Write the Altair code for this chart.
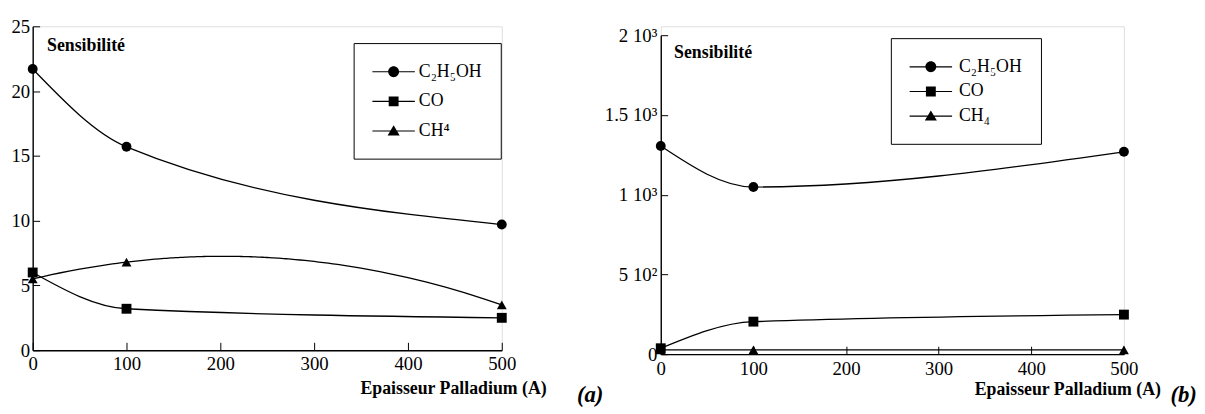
import altair as alt
import pandas as pd

# ---------------- data ----------------
X_VALUES = [0, 100, 500]
SERIES = ["C2H5OH", "CO", "CH4"]

A_C2H5OH = [21.7, 15.7, 9.7]
A_CO = [6.0, 3.2, 2.5]
A_CH4 = [5.5, 6.8, 3.5]

B_C2H5OH = [1305, 1048, 1269]
B_CO = [37, 204, 248]
B_CH4 = [27, 27, 27]

A_LEGEND_LABELS = ["C₂H₅OH", "CO", "CH⁴"]
B_LEGEND_LABELS = ["C₂H₅OH", "CO", "CH₄"]

X_TICKS = [0, 100, 200, 300, 400, 500]
A_Y_TICKS = [0, 5, 10, 15, 20, 25]
B_Y_TICKS = [0, 500, 1000, 1500, 2000]
B_Y_LABELS = ["0", "5 10²", "1 10³", "1.5 10³", "2 10³"]

Y_TITLE = "Sensibilité"
X_TITLE = "Epaisseur Palladium (A)"
PANEL_TAGS = ["(a)", "(b)"]

# curve type used to join the measured points of each series
A_CURVES = {"C2H5OH": "monotone", "CO": "monotone", "CH4": "quadratic"}
B_CURVES = {"C2H5OH": "monotone", "CO": "monotone", "CH4": "monotone"}

SERIF = "Liberation Serif"

# legend symbols (unit = half the nominal symbol box): a line with the marker on it
LEG_PATHS = [
    "M-1,-0.06H3.3V0.06H-1Z M0.6,0A0.55,0.55,0,1,1,1.7,0A0.55,0.55,0,1,1,0.6,0Z",
    "M-1,-0.06H3.3V0.06H-1Z M0.65,-0.5H1.65V0.5H0.65Z",
    "M-1,-0.06H3.3V0.06H-1Z M1.15,-0.58L1.76,0.45H0.54Z",
]


def long_table(series_values):
    rows = []
    for s, vals in zip(SERIES, series_values):
        for x, y in zip(X_VALUES, vals):
            rows.append({"s": s, "x": x, "y": y})
    return pd.DataFrame(rows)


def map_expr(keys, labels, quote):
    expr = "''"
    for k, lab in reversed(list(zip(keys, labels))):
        key = f"'{k}'" if quote else str(k)
        expr = f"(datum.value == {key} ? '{lab}' : {expr})"
    return expr


def build_panel(df, curves, ydom, yticks, ylab_expr, legend_labels, tag, c):
    xs = alt.Scale(domain=[0, 500], nice=False, zero=False)
    ys = alt.Scale(domain=ydom, nice=False, range=[c["h"], c["ytop"]])

    yaxis_kw = dict(
        orient="left", values=yticks, tickSize=0, grid=False,
        domainColor="black", domainWidth=1.4,
        labelFont=SERIF, labelFontSize=19, labelColor="black",
        labelPadding=c["ylabpad"], labelFlush=False,
        title=Y_TITLE, titleAngle=0, titleAlign="left", titleBaseline="middle",
        titleX=c["ytitle_x"], titleY=c["ytitle_y"], titleFont=SERIF,
        titleFontSize=18, titleFontWeight="bold", titleColor="black",
    )
    if ylab_expr:
        yaxis_kw["labelExpr"] = ylab_expr
    y_axis = alt.Axis(**yaxis_kw)

    x_axis = alt.Axis(
        orient="bottom", values=X_TICKS, format="d", tickSize=0, grid=False,
        domainColor="black", domainWidth=1.4,
        labelFont=SERIF, labelFontSize=19, labelColor="black",
        labelPadding=c["xlabpad"], labelFlush=False,
        title=X_TITLE, titleFont=SERIF, titleFontSize=18, titleFontWeight="bold",
        titleColor="black", titleAlign="right", titleBaseline="middle",
        titleX=c["xtitle_x"], titleY=c["xtitle_y"],
    )
    # inward ticks (+ panel tag as title of the tick axis)
    tx_axis = alt.Axis(
        orient="bottom", offset=-8, values=X_TICKS, tickSize=8, tickColor="black",
        tickWidth=1, domain=False, labels=False, grid=False,
        title=tag, titleFont=SERIF, titleFontSize=23, titleFontWeight="bold",
        titleFontStyle="italic", titleColor="black", titleAlign="center",
        titleBaseline="middle", titleX=c["tag_x"], titleY=c["tag_y"],
    )
    ty_axis = alt.Axis(
        orient="left", offset=-7, values=yticks, tickSize=7, tickColor="black",
        tickWidth=1, domain=False, labels=False, grid=False,
        title=" ", titleFontSize=8, titleAngle=0, titleBaseline="top",
        titleAlign="left", titleX=20, titleY=c["h"] // 2,
    )

    mono = [s for s in SERIES if curves[s] == "monotone"]
    quad = [s for s in SERIES if curves[s] == "quadratic"]

    layers = []
    if mono:
        layers.append(
            alt.Chart(df)
            .transform_filter(alt.FieldOneOfPredicate(field="s", oneOf=mono))
            .mark_line(interpolate="monotone", color="black", strokeWidth=1.3)
            .encode(x=alt.X("x:Q", scale=xs, axis=None),
                    y=alt.Y("y:Q", scale=ys, axis=None),
                    detail="s:N")
        )
    if quad:
        layers.append(
            alt.Chart(df)
            .transform_filter(alt.FieldOneOfPredicate(field="s", oneOf=quad))
            .transform_regression("x", "y", method="poly", order=2,
                                  extent=[0, 500], groupby=["s"])
            .mark_line(color="black", strokeWidth=1.3)
            .encode(x=alt.X("x:Q", scale=xs, axis=None),
                    y=alt.Y("y:Q", scale=ys, axis=None),
                    detail="s:N")
        )
    layers.append(
        alt.Chart(df)
        .mark_point(filled=True, size=100, color="black", opacity=1)
        .encode(
            x=alt.X("x:Q", scale=xs, axis=x_axis),
            y=alt.Y("y:Q", scale=ys, axis=y_axis),
            shape=alt.Shape("s:N", scale=alt.Scale(
                domain=SERIES, range=["circle", "square", "triangle-up"]),
                legend=None),
        )
    )
    legend = alt.Legend(
        orient="none", legendX=c["leg_x"], legendY=c["leg_y"], title=None,
        labelExpr=map_expr(SERIES, legend_labels, True),
        labelFont=SERIF, labelFontSize=18, labelColor="black",
        labelOffset=c["leg_lo"], symbolSize=400, symbolStrokeWidth=0,
        symbolFillColor="black", symbolOpacity=1,
        padding=19, rowPadding=c["leg_rp"],
        strokeColor="black", fillColor="white",
    )
    layers.append(
        alt.Chart(df)
        .transform_filter("datum.x < 0")
        .mark_point(filled=True, size=400, color="black", opacity=1)
        .encode(
            x=alt.X("x:Q", scale=xs, axis=tx_axis),
            y=alt.Y("y:Q", scale=ys, axis=ty_axis),
            shape=alt.Shape("s:N", scale=alt.Scale(domain=SERIES, range=LEG_PATHS),
                            legend=legend),
        )
    )
    return (
        alt.layer(*layers)
        .resolve_scale(shape="independent")
        .resolve_axis(x="independent", y="independent")
        .properties(width=c["w"], height=c["h"])
    )


cfg_a = dict(w=475, h=328, ytop=0, ylabpad=3, xlabpad=5, ytitle_x=14, ytitle_y=20,
             xtitle_x=520, xtitle_y=39, tag_x=564, tag_y=53,
             leg_x=325, leg_y=17, leg_rp=11, leg_lo=27)
cfg_b = dict(w=469, h=332, ytop=9, ylabpad=4, xlabpad=6, ytitle_x=13, ytitle_y=27,
             xtitle_x=506, xtitle_y=36, tag_x=529, tag_y=49,
             leg_x=233, leg_y=12, leg_rp=6, leg_lo=30)

df_a = long_table([A_C2H5OH, A_CO, A_CH4])
df_b = long_table([B_C2H5OH, B_CO, B_CH4])

panel_a = build_panel(df_a, A_CURVES, [0, 25], A_Y_TICKS, None,
                      A_LEGEND_LABELS, PANEL_TAGS[0], cfg_a)
panel_b = build_panel(df_b, B_CURVES, [0, 2000], B_Y_TICKS,
                      map_expr(B_Y_TICKS, B_Y_LABELS, False),
                      B_LEGEND_LABELS, PANEL_TAGS[1], cfg_b)

chart = (
    alt.hconcat(panel_a, panel_b, spacing=0)
    .properties(padding={"left": 2, "top": 6, "right": 0, "bottom": 0})
    .configure_view(stroke="transparent")
    .configure_legend(strokeWidth=1.6)
    .configure(background="white")
)

chart.save("out.html", embed_options={"renderer": "svg", "actions": False})
